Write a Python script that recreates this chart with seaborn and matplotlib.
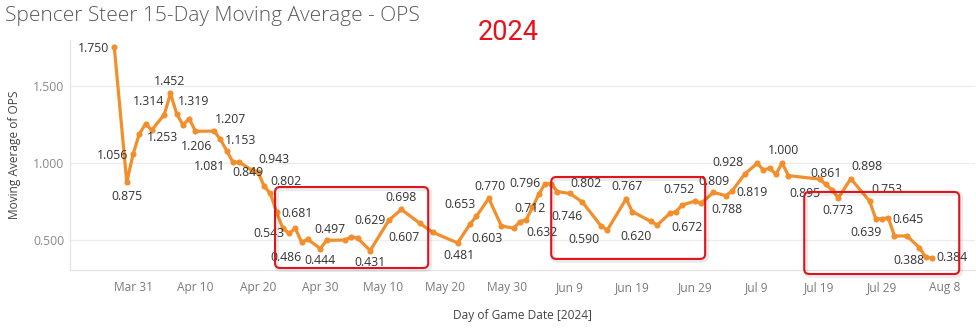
import matplotlib
matplotlib.use("Agg")
import matplotlib.pyplot as plt
import matplotlib.dates as mdates
from matplotlib.patches import FancyBboxPatch
from matplotlib.transforms import IdentityTransform
import seaborn as sns
import pandas as pd

# ---------------- data ----------------
game_dates = [
    "2024-03-28", "2024-03-30", "2024-03-31", "2024-04-01", "2024-04-02", "2024-04-03",
    "2024-04-05", "2024-04-06", "2024-04-07", "2024-04-08", "2024-04-09", "2024-04-10",
    "2024-04-13", "2024-04-14", "2024-04-15", "2024-04-16", "2024-04-17", "2024-04-19",
    "2024-04-20", "2024-04-21", "2024-04-22", "2024-04-23", "2024-04-24", "2024-04-25",
    "2024-04-26", "2024-04-27", "2024-04-28", "2024-04-30", "2024-05-01", "2024-05-04",
    "2024-05-05", "2024-05-06", "2024-05-08", "2024-05-11", "2024-05-13", "2024-05-16",
    "2024-05-18", "2024-05-22", "2024-05-24", "2024-05-25", "2024-05-27", "2024-05-29",
    "2024-05-31", "2024-06-01", "2024-06-02", "2024-06-03", "2024-06-04", "2024-06-05",
    "2024-06-06", "2024-06-07", "2024-06-09", "2024-06-11", "2024-06-14", "2024-06-15",
    "2024-06-18", "2024-06-19", "2024-06-22", "2024-06-23", "2024-06-25", "2024-06-26",
    "2024-06-27", "2024-06-29", "2024-06-30", "2024-07-02", "2024-07-04", "2024-07-05",
    "2024-07-07", "2024-07-09", "2024-07-10", "2024-07-11", "2024-07-12", "2024-07-13",
    "2024-07-14", "2024-07-19", "2024-07-20", "2024-07-21", "2024-07-22", "2024-07-24",
    "2024-07-27", "2024-07-28", "2024-07-29", "2024-07-30", "2024-07-31", "2024-08-02",
    "2024-08-04", "2024-08-05", "2024-08-06",
]
ops_ma = [
    1.750, 0.875, 1.056, 1.188, 1.253, 1.214,
    1.314, 1.452, 1.319, 1.247, 1.288, 1.206,
    1.207, 1.153, 1.081, 1.005, 1.005, 0.955,
    0.943, 0.849, 0.802, 0.681, 0.575, 0.543,
    0.576, 0.486, 0.504, 0.444, 0.497, 0.500,
    0.521, 0.511, 0.431, 0.629, 0.698, 0.607,
    0.550, 0.481, 0.603, 0.653, 0.770, 0.592,
    0.576, 0.619, 0.632, 0.712, 0.796, 0.866,
    0.866, 0.814, 0.802, 0.746, 0.590, 0.565,
    0.767, 0.684, 0.620, 0.597, 0.672, 0.684,
    0.727, 0.752, 0.738, 0.809, 0.788, 0.819,
    0.928, 0.998, 0.955, 0.966, 0.927, 1.000,
    0.918, 0.895, 0.861, 0.825, 0.773, 0.898,
    0.753, 0.639, 0.636, 0.645, 0.526, 0.526,
    0.450, 0.388, 0.384,
]
# dates whose value is labelled on the chart
labelled_dates = [
    "2024-03-28", "2024-03-30", "2024-03-31", "2024-04-02", "2024-04-05", "2024-04-06",
    "2024-04-07", "2024-04-10", "2024-04-13", "2024-04-14", "2024-04-15", "2024-04-20",
    "2024-04-21", "2024-04-22", "2024-04-23", "2024-04-25", "2024-04-27", "2024-04-30",
    "2024-05-01", "2024-05-08", "2024-05-11", "2024-05-13", "2024-05-16", "2024-05-22",
    "2024-05-24", "2024-05-25", "2024-05-27", "2024-06-02", "2024-06-03", "2024-06-04",
    "2024-06-09", "2024-06-11", "2024-06-14", "2024-06-18", "2024-06-22", "2024-06-25",
    "2024-06-29", "2024-07-02", "2024-07-04", "2024-07-05", "2024-07-07", "2024-07-13",
    "2024-07-19", "2024-07-20", "2024-07-22", "2024-07-24", "2024-07-27", "2024-07-28",
    "2024-07-30", "2024-08-05", "2024-08-06",
]
y_ticks = [0.5, 1.0, 1.5]
x_tick_start = "2024-03-31"
x_tick_step_days = 10
x_tick_count = 14

# ---------------- styling: label placement (pixels, +dy = down) ----------------
label_offsets = [
    (-21, 1), (0, 14), (-20, 1), (17, 13), (-16, -13), (-1, -12),
    (17, -12), (1, 15), (16, -12), (20, 1), (-17, 16), (16, -12),
    (-16, -14), (16, -12), (20, 1), (-20, 0), (-16, 15), (0, 12),
    (3, -11), (0, 12), (-19, 0), (0, -12), (-16, 14), (1, 13),
    (17, 14), (-16, -12), (1, -12), (16, 13), (-2, 1), (-14, -11),
    (16, -10), (-15, 14), (-17, 13), (1, -12), (-15, 15), (17, 14),
    (-16, -12), (0, -11), (1, 14), (20, 2), (-17, -12), (1, -12),
    (-15, 14), (0, -11), (0, 13), (16, -12), (17, -12), (-10, 14),
    (20, 2), (-17, 3), (20, 0),
]
# highlight boxes: (start date, end date, low value, high value)
boxes = [
    ("2024-04-22 18:00", "2024-05-17 07:00", 0.318, 0.844),
    ("2024-06-06 00:00", "2024-06-30 16:00", 0.377, 0.909),
    ("2024-07-16 13:00", "2024-08-10 09:00", 0.279, 0.812),
]

df = pd.DataFrame({"date": pd.to_datetime(game_dates), "ops": ops_ma})

sns.set_theme(style="white")
plt.rcParams["font.family"] = ["Open Sans", "DejaVu Sans"]

W, H = 976, 332
fig = plt.figure(figsize=(W / 100, H / 100), dpi=100)
fig.patch.set_facecolor("white")
ax = fig.add_axes([70 / W, 62 / H, 905 / W, 230 / H])

orange = "#f28e2b"
sns.lineplot(data=df, x="date", y="ops", ax=ax, color=orange, linewidth=2.3,
             marker="o", markersize=4.4, markeredgewidth=0, zorder=3)

t0 = pd.Timestamp(x_tick_start)
ax.set_xlim(t0 - pd.Timedelta(days=10.1), t0 + pd.Timedelta(days=134.9))
ax.set_ylim(0.305, 1.7987)

ticks = [t0 + pd.Timedelta(days=x_tick_step_days * i) for i in range(x_tick_count)]
ax.set_xticks(ticks)
ax.set_xticklabels([f"{t.strftime('%b')} {t.day}" for t in ticks],
                   fontsize=8.6, color="#7a7a7a")
ax.set_yticks(y_ticks)
ax.set_yticklabels([f"{v:.3f}" for v in y_ticks], fontsize=8.8, color="#8a8a8a")
ax.tick_params(axis="y", length=0, pad=4)
ax.tick_params(axis="x", length=0, pad=8)

ax.grid(axis="y", color="#ececec", linewidth=0.9)
ax.grid(axis="x", visible=False)
for side in ["top", "right"]:
    ax.spines[side].set_visible(False)
for side in ["left", "bottom"]:
    ax.spines[side].set_color("#e3e3e3")
    ax.spines[side].set_linewidth(0.9)

ax.set_xlabel("Day of Game Date [2024]", fontsize=8.6, color="#444444", labelpad=11)
ax.set_ylabel("Moving Average of OPS", fontsize=8.6, color="#444444", labelpad=9)

# data labels
val_by_date = dict(zip(df["date"], df["ops"]))
for d, (dx, dy) in zip(labelled_dates, label_offsets):
    dt = pd.Timestamp(d)
    v = val_by_date[dt]
    ax.annotate(f"{v:.3f}", (dt, v), xytext=(dx, -dy), textcoords="offset pixels",
                ha="center", va="center", fontsize=8.8, color="#333333", zorder=4)

# highlight boxes (drawn in pixel space so corners are round)
for (a, b, lo, hi) in boxes:
    x0, y0 = ax.transData.transform((mdates.date2num(pd.Timestamp(a)), lo))
    x1, y1 = ax.transData.transform((mdates.date2num(pd.Timestamp(b)), hi))
    shadow = FancyBboxPatch((x0 + 1.5, y0 - 1.5), x1 - x0, y1 - y0,
                            boxstyle="round,pad=0,rounding_size=5",
                            transform=IdentityTransform(), fc="none",
                            ec="#000000", lw=3.5, alpha=0.08, zorder=5)
    fig.patches.append(shadow)
    p = FancyBboxPatch((x0, y0), x1 - x0, y1 - y0,
                       boxstyle="round,pad=0,rounding_size=5",
                       transform=IdentityTransform(), fc="none",
                       ec="#e0141c", lw=1.5, zorder=6)
    fig.patches.append(p)

fig.text(5 / W, 1 - 16 / H, "Spencer Steer 15-Day Moving Average - OPS",
         fontsize=15, color="#595959", ha="left", va="center", fontweight="light")
fig.text(508 / W, 1 - 33 / H, "2024", fontsize=19.5, color="#e8101a",
         ha="center", va="center", family=["Roboto", "DejaVu Sans"])

fig.savefig("out.png", dpi=100, facecolor="white")
